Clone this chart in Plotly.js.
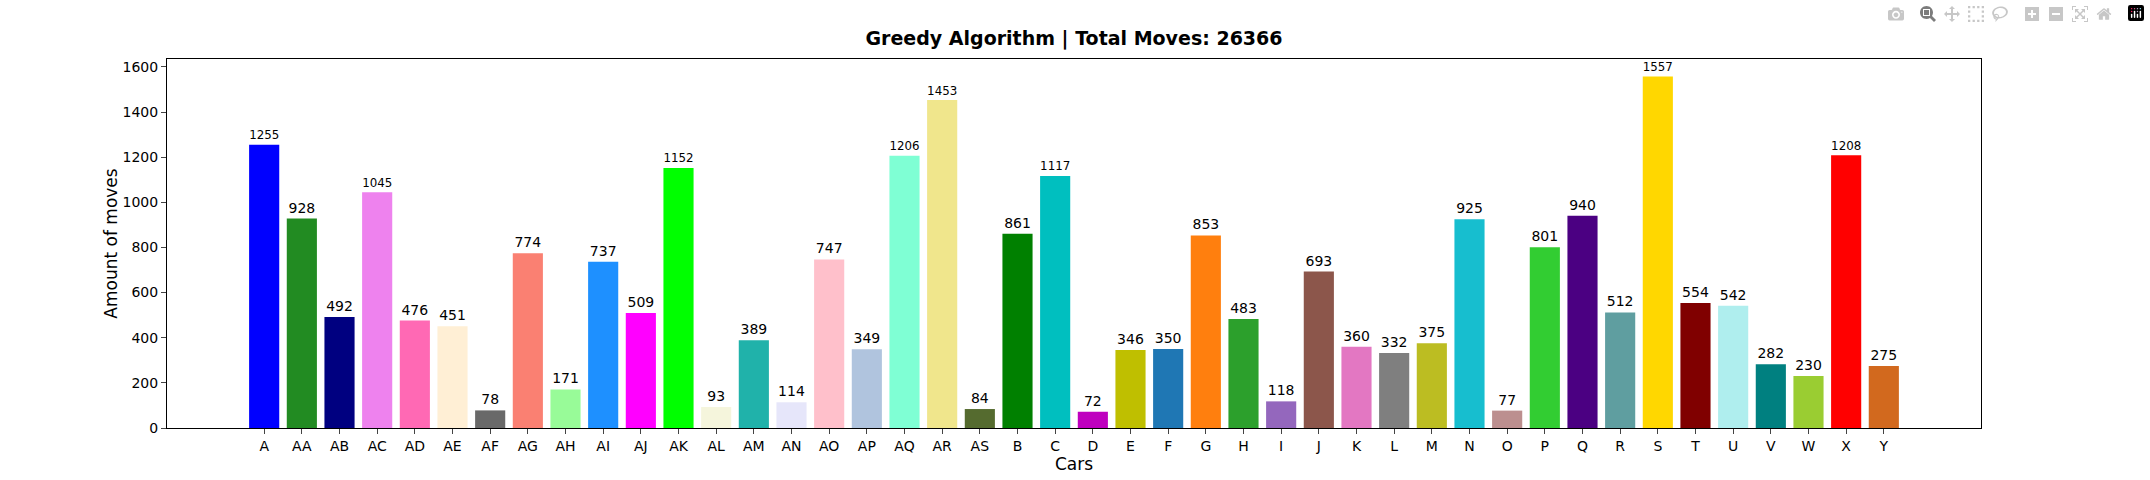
<!DOCTYPE html><html><head><script src="https://cdn.plot.ly/plotly-3.0.1.min.js"></script></head><body style="margin:0"><div id="c" style="width:2150px;height:480px"></div><script>
const cars=["A","AA","AB","AC","AD","AE","AF","AG","AH","AI","AJ","AK","AL","AM","AN","AO","AP","AQ","AR","AS","B","C","D","E","F","G","H","I","J","K","L","M","N","O","P","Q","R","S","T","U","V","W","X","Y"];
const moves=[1255,928,492,1045,476,451,78,774,171,737,509,1152,93,389,114,747,349,1206,1453,84,861,1117,72,346,350,853,483,118,693,360,332,375,925,77,801,940,512,1557,554,542,282,230,1208,275];
const colors=["#0000ff","#228b22","#000080","#ee82ee","#ff69b4","#ffefd5","#696969","#fa8072","#98fb98","#1e90ff","#ff00ff","#00ff00","#f5f5dc","#20b2aa","#e6e6fa","#ffc0cb","#b0c4de","#7fffd4","#f0e68c","#556b2f","#008000","#00bfbf","#bf00bf","#bfbf00","#1f77b4","#ff7f0e","#2ca02c","#9467bd","#8c564b","#e377c2","#7f7f7f","#bcbd22","#17becf","#bc8f8f","#32cd32","#4b0082","#5f9ea0","#ffd700","#800000","#afeeee","#008080","#9acd32","#ff0000","#d2691e"];
const idx=cars.map((_,i)=>i);
Plotly.newPlot('c',[{type:'bar',x:idx,y:moves,width:0.8,marker:{color:colors},text:moves.map(String),textposition:'outside',cliponaxis:false,textfont:{size:14,color:'#000'}}],{
width:2150,height:480,margin:{l:167,r:169,t:59,b:52},paper_bgcolor:'#fff',plot_bgcolor:'#fff',showlegend:false,
font:{family:'DejaVu Sans',size:14,color:'#000'},
title:{text:'<b>Greedy Algorithm | Total Moves: 26366</b>',x:0.5,xref:'paper',y:0.935,font:{size:19}},
xaxis:{range:[-2.58,45.58],tickvals:idx,ticktext:cars,ticks:'outside',ticklen:5,showgrid:false,zeroline:false,showline:true,mirror:true,linecolor:'#000',title:{text:'Cars',standoff:4}},
yaxis:{range:[0,1635],dtick:200,ticks:'outside',ticklen:5,showgrid:false,zeroline:false,showline:true,mirror:true,linecolor:'#000',title:{text:'Amount of moves'}}
});
</script></body></html>
